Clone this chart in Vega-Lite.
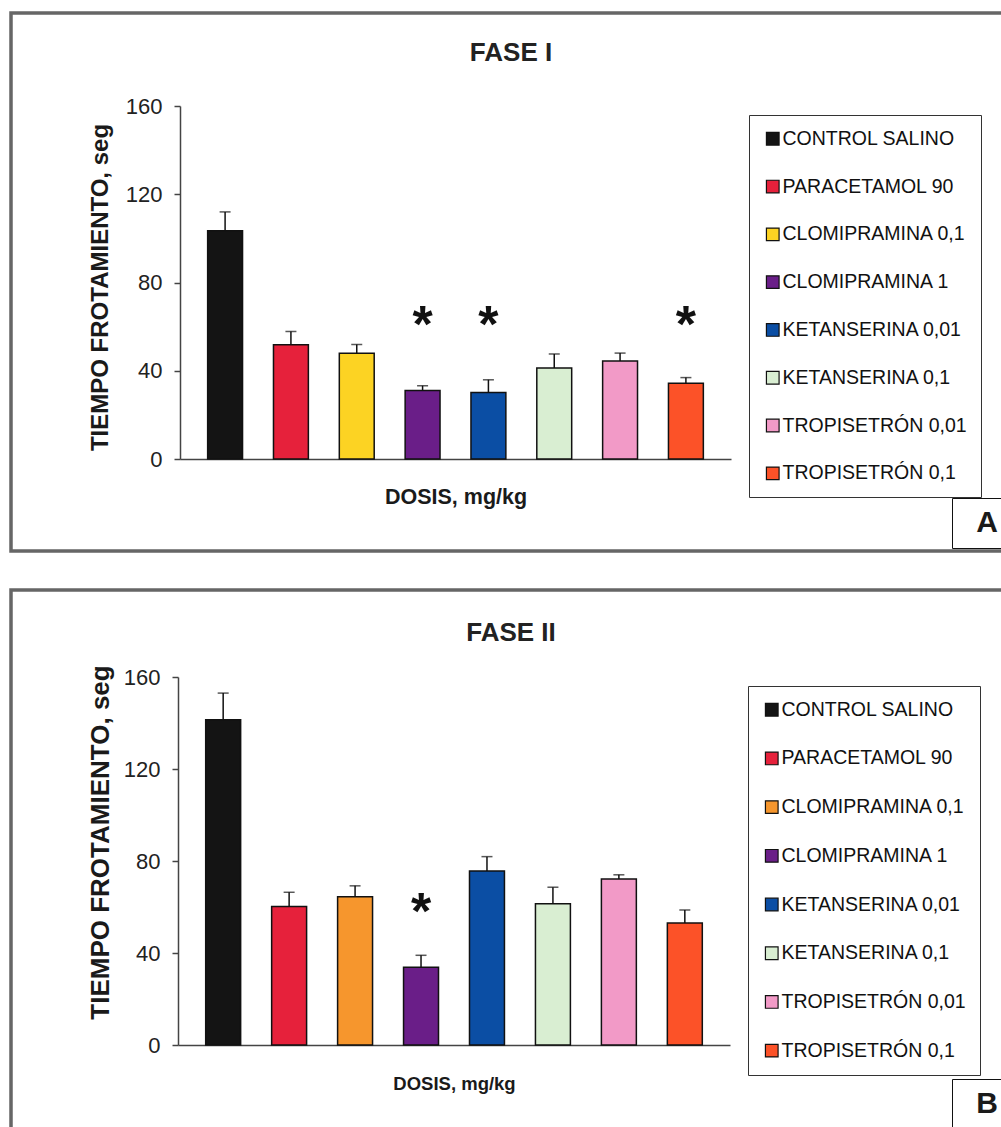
{
  "$schema": "https://vega.github.io/schema/vega-lite/v6.json",
  "background": "white",
  "padding": {"left": 9, "top": 11, "right": 0, "bottom": 0},
  "spacing": 35,
  "config": {
    "font": "Liberation Sans",
    "view": {"stroke": "#666666", "strokeWidth": 3.5},
    "axis": {"domainColor": "#444444", "domainWidth": 1.5, "tickColor": "#444444", "tickWidth": 1.5, "labelColor": "#222222", "titleColor": "#1a1a1a", "grid": false, "labelFont": "Liberation Sans", "titleFont": "Liberation Sans"},
    "legend": {"labelFont": "Liberation Sans"}
  },
  "resolve": {"scale": {"x": "independent", "y": "independent", "color": "independent", "strokeDash": "independent"}, "legend": {"color": "independent", "strokeDash": "independent"}},
  "vconcat": [
    {
      "width": 1000,
      "height": 538,
      "title": {"text": "FASE I", "fontSize": 26, "fontWeight": "bold", "anchor": "middle", "frame": "group", "offset": -53, "color": "#222222"},
      "data": {"values": [
        {"cat": "CONTROL SALINO", "mean": 103.4, "upper": 112.0, "sig": ""},
        {"cat": "PARACETAMOL 90", "mean": 51.8, "upper": 57.8, "sig": ""},
        {"cat": "CLOMIPRAMINA 0,1", "mean": 47.9, "upper": 51.9, "sig": ""},
        {"cat": "CLOMIPRAMINA 1", "mean": 31.1, "upper": 33.2, "sig": "*"},
        {"cat": "KETANSERINA 0,01", "mean": 30.1, "upper": 35.9, "sig": "*"},
        {"cat": "KETANSERINA 0,1", "mean": 41.2, "upper": 47.6, "sig": ""},
        {"cat": "TROPISETRÓN 0,01", "mean": 44.4, "upper": 48.0, "sig": ""},
        {"cat": "TROPISETRÓN 0,1", "mean": 34.3, "upper": 36.9, "sig": "*"}
      ]},
      "layer": [
        {
          "mark": {"type": "bar", "stroke": "#111111", "strokeWidth": 1.5},
          "encoding": {
            "x": {"field": "cat", "type": "nominal", "sort": null,
              "scale": {"range": [169, 720], "paddingInner": 0.47, "paddingOuter": 0.42},
              "axis": {"orient": "bottom", "offset": -92, "labels": false, "ticks": false, "title": "DOSIS, mg/kg", "titleFontSize": 21.5, "titleFontWeight": "bold", "titlePadding": 27}},
            "y": {"field": "mean", "type": "quantitative",
              "scale": {"domain": [0, 160], "range": [446, 93], "nice": false},
              "axis": {"orient": "left", "offset": -169, "values": [0, 40, 80, 120, 160], "tickSize": 6, "labelFontSize": 22, "labelPadding": 12, "title": "TIEMPO FROTAMIENTO, seg", "titleFontSize": 24, "titleFontWeight": "bold", "titleX": -80, "titleY": 274, "titleAngle": 270, "titleBaseline": "middle", "titleAlign": "center"}},
            "color": {"field": "cat", "type": "nominal",
              "scale": {"domain": ["CONTROL SALINO", "PARACETAMOL 90", "CLOMIPRAMINA 0,1", "CLOMIPRAMINA 1", "KETANSERINA 0,01", "KETANSERINA 0,1", "TROPISETRÓN 0,01", "TROPISETRÓN 0,1"],
                "range": ["#141414", "#e6213b", "#fcd323", "#6a1e88", "#0b4ea4", "#d9eed2", "#f29ac7", "#fc5228"]},
              "legend": {"orient": "none", "legendX": 738, "legendY": 102, "title": null, "padding": 14, "strokeColor": "#333333", "labelFontSize": 19.5, "labelColor": "#111111", "symbolType": "square", "symbolSize": 160, "symbolStrokeColor": "#111111", "symbolStrokeWidth": 1.2, "rowPadding": 26.8, "labelOffset": 0, "symbolOffset": 0, "labelLimit": 400}}
          }
        },
        {
          "mark": {"type": "rule", "color": "#111111", "strokeWidth": 1.5},
          "encoding": {
            "x": {"field": "cat", "type": "nominal", "sort": null},
            "y": {"field": "mean", "type": "quantitative"},
            "y2": {"field": "upper"},
            "strokeDash": {"datum": "A", "scale": {"domain": ["A"], "range": [[1, 0]]},
              "legend": {"orient": "none", "legendX": 941, "legendY": 485, "title": null, "padding": 10, "strokeColor": "#111111", "symbolType": "circle", "symbolOpacity": 0, "symbolSize": 16, "symbolOffset": 0, "labelOffset": 6, "labelAlign": "right", "labelFontSize": 30, "labelFontWeight": "bold", "labelColor": "#1a1a1a"}}
          }
        },
        {
          "mark": {"type": "tick", "color": "#111111", "thickness": 1.5, "size": 11},
          "encoding": {
            "x": {"field": "cat", "type": "nominal", "sort": null},
            "y": {"field": "upper", "type": "quantitative"}
          }
        },
        {
          "mark": {"type": "text", "fontSize": 52, "fontWeight": "bold", "baseline": "middle", "dy": 7, "color": "#111111"},
          "encoding": {
            "x": {"field": "cat", "type": "nominal", "sort": null},
            "y": {"datum": 63.5, "type": "quantitative"},
            "text": {"field": "sig"}
          }
        }
      ]
    },
    {
      "width": 1000,
      "height": 545,
      "title": {"text": "FASE II", "fontSize": 26, "fontWeight": "bold", "anchor": "middle", "frame": "group", "offset": -56, "color": "#222222"},
      "data": {"values": [
        {"cat": "CONTROL SALINO", "mean": 141.4, "upper": 153.0, "sig": ""},
        {"cat": "PARACETAMOL 90", "mean": 60.2, "upper": 66.4, "sig": ""},
        {"cat": "CLOMIPRAMINA 0,1", "mean": 64.5, "upper": 69.2, "sig": ""},
        {"cat": "CLOMIPRAMINA 1", "mean": 33.8, "upper": 39.0, "sig": "*"},
        {"cat": "KETANSERINA 0,01", "mean": 75.7, "upper": 81.9, "sig": ""},
        {"cat": "KETANSERINA 0,1", "mean": 61.4, "upper": 68.6, "sig": ""},
        {"cat": "TROPISETRÓN 0,01", "mean": 72.2, "upper": 74.0, "sig": ""},
        {"cat": "TROPISETRÓN 0,1", "mean": 53.0, "upper": 58.7, "sig": ""}
      ]},
      "layer": [
        {
          "mark": {"type": "bar", "stroke": "#111111", "strokeWidth": 1.5},
          "encoding": {
            "x": {"field": "cat", "type": "nominal", "sort": null,
              "scale": {"range": [167, 719], "paddingInner": 0.47, "paddingOuter": 0.42},
              "axis": {"orient": "bottom", "offset": -90, "labels": false, "ticks": false, "title": "DOSIS, mg/kg", "titleFontSize": 18.5, "titleFontWeight": "bold", "titlePadding": 29}},
            "y": {"field": "mean", "type": "quantitative",
              "scale": {"domain": [0, 160], "range": [455, 87], "nice": false},
              "axis": {"orient": "left", "offset": -167, "values": [0, 40, 80, 120, 160], "tickSize": 6, "labelFontSize": 22, "labelPadding": 12, "title": "TIEMPO FROTAMIENTO, seg", "titleFontSize": 26, "titleFontWeight": "bold", "titleX": -78, "titleY": 252, "titleAngle": 270, "titleBaseline": "middle", "titleAlign": "center"}},
            "color": {"field": "cat", "type": "nominal",
              "scale": {"domain": ["CONTROL SALINO", "PARACETAMOL 90", "CLOMIPRAMINA 0,1", "CLOMIPRAMINA 1", "KETANSERINA 0,01", "KETANSERINA 0,1", "TROPISETRÓN 0,01", "TROPISETRÓN 0,1"],
                "range": ["#141414", "#e6213b", "#f6962d", "#6a1e88", "#0b4ea4", "#d9eed2", "#f29ac7", "#fc5228"]},
              "legend": {"orient": "none", "legendX": 737, "legendY": 96, "title": null, "padding": 14, "strokeColor": "#333333", "labelFontSize": 19.5, "labelColor": "#111111", "symbolType": "square", "symbolSize": 160, "symbolStrokeColor": "#111111", "symbolStrokeWidth": 1.2, "rowPadding": 27.7, "labelOffset": 0, "symbolOffset": 0, "labelLimit": 400}}
          }
        },
        {
          "mark": {"type": "rule", "color": "#111111", "strokeWidth": 1.5},
          "encoding": {
            "x": {"field": "cat", "type": "nominal", "sort": null},
            "y": {"field": "mean", "type": "quantitative"},
            "y2": {"field": "upper"},
            "strokeDash": {"datum": "B", "scale": {"domain": ["B"], "range": [[1, 0]]},
              "legend": {"orient": "none", "legendX": 941, "legendY": 489, "title": null, "padding": 10, "strokeColor": "#111111", "symbolType": "circle", "symbolOpacity": 0, "symbolSize": 16, "symbolOffset": 0, "labelOffset": 6, "labelAlign": "right", "labelFontSize": 30, "labelFontWeight": "bold", "labelColor": "#1a1a1a"}}
          }
        },
        {
          "mark": {"type": "tick", "color": "#111111", "thickness": 1.5, "size": 11},
          "encoding": {
            "x": {"field": "cat", "type": "nominal", "sort": null},
            "y": {"field": "upper", "type": "quantitative"}
          }
        },
        {
          "mark": {"type": "text", "fontSize": 52, "fontWeight": "bold", "baseline": "middle", "dy": 7, "color": "#111111"},
          "encoding": {
            "x": {"field": "cat", "type": "nominal", "sort": null},
            "y": {"datum": 60.5, "type": "quantitative"},
            "text": {"field": "sig"}
          }
        }
      ]
    }
  ]
}
